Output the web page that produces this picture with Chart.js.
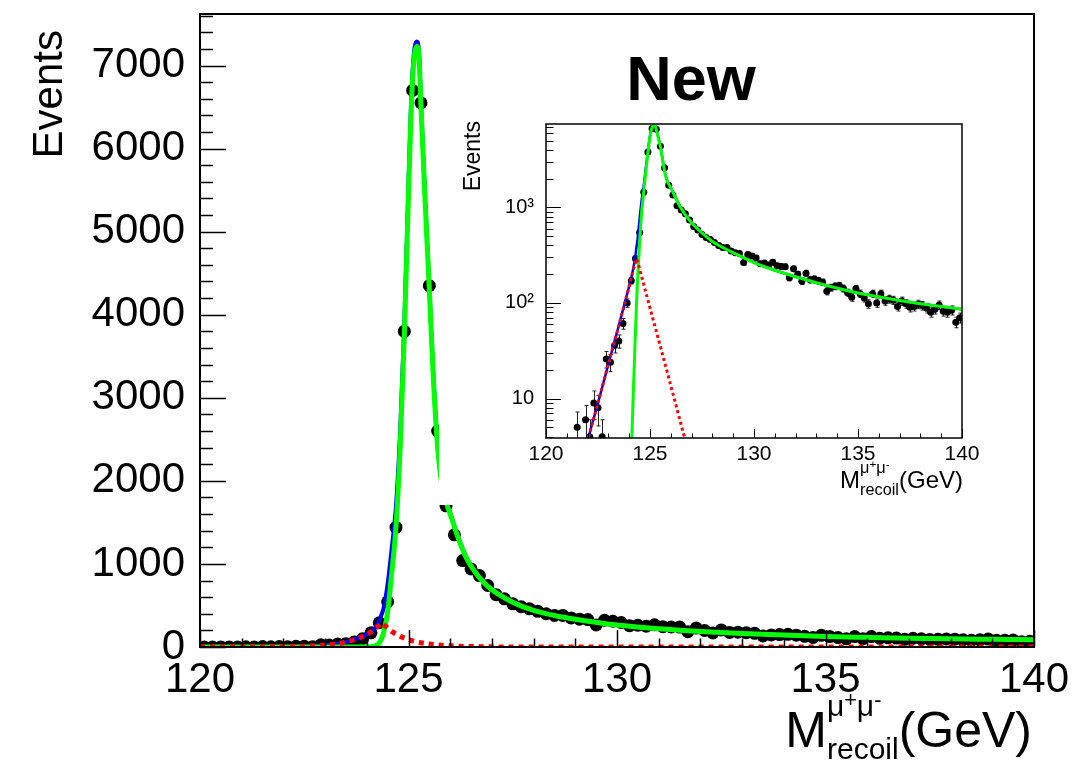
<!DOCTYPE html>
<html><head><meta charset="utf-8">
<script src="https://cdn.jsdelivr.net/npm/chart.js@4.4.1/dist/chart.umd.min.js"></script>
<style>
html,body{margin:0;padding:0;background:#fff;}
#wrap{position:relative;width:1084px;height:761px;overflow:hidden;background:#fff;}
#main{position:absolute;left:0;top:0;}
#inset{position:absolute;left:439px;top:108px;}
</style></head><body>
<div id="wrap">
<canvas id="main" width="1084" height="761"></canvas>
<canvas id="inset" width="561" height="397"></canvas>
</div>
<script>
// ---------------- data ----------------
const binCenters = [
 120.1,120.3,120.5,120.7,120.9,121.1,121.3,121.5,121.7,121.9,
 122.1,122.3,122.5,122.7,122.9,123.1,123.3,123.5,123.7,123.9,
 124.1,124.3,124.5,124.7,124.9,125.1,125.3,125.5,125.7,125.9,
 126.1,126.3,126.5,126.7,126.9,127.1,127.3,127.5,127.7,127.9,
 128.1,128.3,128.5,128.7,128.9,129.1,129.3,129.5,129.7,129.9,
 130.1,130.3,130.5,130.7,130.9,131.1,131.3,131.5,131.7,131.9,
 132.1,132.3,132.5,132.7,132.9,133.1,133.3,133.5,133.7,133.9,
 134.1,134.3,134.5,134.7,134.9,135.1,135.3,135.5,135.7,135.9,
 136.1,136.3,136.5,136.7,136.9,137.1,137.3,137.5,137.7,137.9,
 138.1,138.3,138.5,138.7,138.9,139.1,139.3,139.5,139.7,139.9];
const events = [
 0,0,1,0,1,2,1,5,2,6,
 4,9,8,4,26,24,36,40,61,100,
 171,292,545,1440,3800,6700,6550,4350,2600,1700,
 1350,1040,940,860,740,630,580,520,485,460,
 430,400,380,380,350,335,330,265,322,310,
 295,257,262,250,267,245,241,240,184,228,
 200,169,205,175,178,172,165,133,145,150,
 152,142,128,115,141,125,113,98,125,100,
 125,105,110,107,92,105,98,90,92,97,
 94,88,80,86,95,82,80,84,63,70];

const curveX = [120,121,122,122.5,123,123.5,124,
 124.1,124.2,124.3,124.35,124.4,124.5,124.6,124.7,124.8,124.9,
 125.0,125.05,125.1,125.15,125.2,125.25,125.3,
 125.4,125.5,125.6,125.7,125.8,125.9,126.0,
 126.2,126.4,126.6,126.8,127.0,
 127.5,128,128.5,129,
 130,131,132,133,134,135,136,137,138,139,140];
const totalFit = [0.06,0.4,3.6,9,23,58,150,
 183,232,313,385,460,760,1200,1700,2600,3900,
 5600,6380,6950,7230,7290,7180,6550,
 5390,4335,3230,2425,1970,1767,1614,
 1309,1066,904,783,692,
 541,440,380,335,
 265,220,188,163,143,127,116,106,98,92,86];
const signalFit = [0.01,0.01,0.01,0.01,0.01,0.02,0.5,
 2.5,12,50,95,170,420,900,1450,2400,3750,
 5450,6250,6850,7150,7230,7120,6500,
 5350,4300,3200,2400,1950,1750,1600,
 1300,1060,900,780,690,
 540,440,380,335,
 265,220,188,163,143,127,116,106,98,92,86];
const tailFit = [0.05,0.4,3.6,9,23,58,150,
 183,225,263,290,272,228,188,156,129,107,
 89,81,74,67,61,56,51,
 42,35,29,24,20,16.5,13.6,
 9.4,6.4,4.4,3.0,2.0,
 0.8,0.3,0.12,0.05,
 0.01,0.01,0.01,0.01,0.01,0.01,0.01,0.01,0.01,0.01,0.01];

const xTickValues = [120,125,130,135,140];
const xTickLabels = ['120','125','130','135','140'];
const mainYTickValues = [0,1000,2000,3000,4000,5000,6000,7000];
const mainYTickLabels = ['0','1000','2000','3000','4000','5000','6000','7000'];
const insetYTickValues = [10,100,1000];
const insetYTickLabels = ['10','10\u00B2','10\u00B3'];

const FONT = "'Liberation Sans', Arial, Helvetica, sans-serif";

// ---------------- helpers ----------------
function pts(xs, ys){ return xs.map((x,i)=>({x:x, y:ys[i]})); }

function drawMTitle(ctx, right, base, size, supUp, subDown, s2f){
  const big = size + 'px ' + FONT;
  const s2 = size*s2f, s3 = size*s2f*0.72;
  ctx.font = big;
  const wM = ctx.measureText('M').width, wG = ctx.measureText('(GeV)').width;
  ctx.font = s2 + 'px ' + FONT;
  const wMu = ctx.measureText('\u03BC').width, wRec = ctx.measureText('recoil').width;
  ctx.font = s3 + 'px ' + FONT;
  const wP = ctx.measureText('+').width, wMi = ctx.measureText('-').width;
  const wSup = 2*wMu + wP + wMi;
  const mid = Math.max(wSup, wRec);
  const x = right - wG - mid - wM;
  ctx.textAlign = 'left'; ctx.textBaseline = 'alphabetic'; ctx.fillStyle = '#000';
  ctx.font = big; ctx.fillText('M', x, base);
  let xs = x + wM;
  const supBase = base - size*supUp;
  ctx.font = s2 + 'px ' + FONT; ctx.fillText('\u03BC', xs, supBase); xs += wMu;
  ctx.font = s3 + 'px ' + FONT; ctx.fillText('+', xs, supBase - s2*0.3); xs += wP;
  ctx.font = s2 + 'px ' + FONT; ctx.fillText('\u03BC', xs, supBase); xs += wMu;
  ctx.font = s3 + 'px ' + FONT; ctx.fillText('-', xs, supBase - s2*0.3);
  ctx.font = s2 + 'px ' + FONT; ctx.fillText('recoil', x + wM, base + size*subDown);
  ctx.font = big; ctx.fillText('(GeV)', x + wM + mid, base);
}

function drawRotated(ctx, text, x, yEnd, size){
  ctx.save();
  ctx.translate(x, yEnd);
  ctx.rotate(-Math.PI/2);
  ctx.font = size + 'px ' + FONT;
  ctx.textAlign = 'right'; ctx.textBaseline = 'alphabetic'; ctx.fillStyle = '#000';
  ctx.fillText(text, 0, 0);
  ctx.restore();
}

function framePlugin(cfg){
  return {
    id: 'frameTicks',
    beforeDraw(chart){
      const ctx = chart.ctx;
      ctx.save(); ctx.fillStyle = '#fff'; ctx.fillRect(0,0,chart.width,chart.height); ctx.restore();
    },
    beforeDatasetsDraw(chart){
      if (!cfg.errorBars) return;
      const {ctx, chartArea:a, scales:{x, y}} = chart;
      ctx.save();
      ctx.beginPath(); ctx.rect(a.left, a.top, a.width, a.height); ctx.clip();
      ctx.strokeStyle = '#222'; ctx.lineWidth = 1;
      ctx.beginPath();
      events.forEach((v, i) => {
        if (v <= 0) return;
        const e = Math.sqrt(v);
        const px = Math.round(x.getPixelForValue(binCenters[i])) + 0.5;
        const yt = y.getPixelForValue(v + e);
        const yb = (v - e) > y.min ? y.getPixelForValue(v - e) : a.bottom + 2;
        ctx.moveTo(px, yt); ctx.lineTo(px, yb);
        ctx.moveTo(px - 2, yt); ctx.lineTo(px + 2, yt);
        ctx.moveTo(px - 2, yb); ctx.lineTo(px + 2, yb);
      });
      ctx.stroke();
      ctx.restore();
    },
    afterDatasetsDraw(chart){
      const {ctx, chartArea:a, scales:{x, y}} = chart;
      ctx.save();
      ctx.strokeStyle = '#000'; ctx.lineWidth = cfg.tickWidth;
      ctx.beginPath();
      for (let v = 120; v <= 140.0001; v += 1) {
        const px = Math.round(x.getPixelForValue(v)) + 0.5;
        const major = (Math.round(v) % 5) === 0;
        ctx.moveTo(px, a.bottom); ctx.lineTo(px, a.bottom - (major ? cfg.xMajor : cfg.xMinor));
      }
      if (cfg.log) {
        for (let d = 1; d <= 1000; d *= 10) {
          for (let m = 1; m <= 9; m++) {
            const v = m*d;
            if (v < y.min || v > y.max) continue;
            const py = Math.round(y.getPixelForValue(v)) + 0.5;
            ctx.moveTo(a.left, py); ctx.lineTo(a.left + (m === 1 ? cfg.yMajor : cfg.yMinor), py);
          }
        }
      } else {
        for (let v = 0; v <= y.max; v += 200) {
          const py = Math.round(y.getPixelForValue(v)) + 0.5;
          ctx.moveTo(a.left, py); ctx.lineTo(a.left + ((v % 1000) === 0 ? cfg.yMajor : cfg.yMinor), py);
        }
      }
      ctx.stroke();
      ctx.lineWidth = cfg.frameWidth;
      ctx.strokeRect(a.left, a.top, a.right - a.left, a.bottom - a.top);
      ctx.restore();
      cfg.texts(ctx, a);
    }
  };
}

function datasets(r, wBlue, wGreen, wRed, dash){
  return [
    {label:'tail', data: pts(curveX, tailFit), showLine:true, pointRadius:0, borderColor:'#ff0000',
     borderWidth:wRed, borderDash:dash, cubicInterpolationMode:'monotone', order:0},
    {label:'signal', data: pts(curveX, signalFit), showLine:true, pointRadius:0, borderColor:'#00ff00',
     borderWidth:wGreen, cubicInterpolationMode:'monotone', order:1},
    {label:'total', data: pts(curveX, totalFit), showLine:true, pointRadius:0, borderColor:'#0000ff',
     borderWidth:wBlue, cubicInterpolationMode:'monotone', order:2},
    {label:'data', data: pts(binCenters, events), showLine:false, pointRadius:r, pointHoverRadius:r,
     pointBackgroundColor:'#000', pointBorderColor:'#000', pointBorderWidth:0, order:3}
  ];
}

const noGrid = {display:false, drawTicks:false, tickLength:0};

// ---------------- main chart ----------------
new Chart(document.getElementById('main'), {
  type: 'scatter',
  data: { datasets: datasets(6.5, 4, 5, 5, [5,5]) },
  options: {
    responsive:false, animation:false, devicePixelRatio:1,
    layout:{ padding:{left:0, top:14, right:50, bottom:0} },
    plugins:{ legend:{display:false}, tooltip:{enabled:false} },
    scales:{
      x:{ type:'linear', min:120, max:140,
        afterBuildTicks: s => { s.ticks = xTickValues.map(v => ({value:v})); },
        ticks:{ callback:(v,i) => xTickLabels[i], font:{family:FONT, size:42}, color:'#000', padding:8, maxRotation:0, autoSkip:false },
        grid:noGrid, border:{display:false},
        afterFit: s => { s.height = 761 - 647; s.paddingLeft = 0; s.paddingRight = 0; } },
      y:{ type:'linear', min:0, max:7620,
        afterBuildTicks: s => { s.ticks = mainYTickValues.map(v => ({value:v})); },
        ticks:{ callback:(v,i) => mainYTickLabels[i], font:{family:FONT, size:42}, color:'#000', padding:15, autoSkip:false },
        grid:noGrid, border:{display:false},
        afterFit: s => { s.width = 200; s.paddingTop = 0; s.paddingBottom = 0; } }
    }
  },
  plugins:[ framePlugin({ log:false, tickWidth:1.5, frameWidth:2, xMajor:17, xMinor:8.5, yMajor:26, yMinor:13, errorBars:false,
    texts:(ctx, a) => {
      drawRotated(ctx, 'Events', 62, 30, 42);
      drawMTitle(ctx, 1032, 747, 50, 0.62, 0.24, 0.6);
      ctx.save();
      ctx.font = 'bold 63px ' + FONT; ctx.textAlign = 'center'; ctx.textBaseline = 'alphabetic'; ctx.fillStyle = '#000';
      ctx.fillText('New', 691, 100);
      ctx.restore();
    } }) ]
});

// ---------------- inset chart ----------------
new Chart(document.getElementById('inset'), {
  type: 'scatter',
  data: { datasets: datasets(3.5, 2.5, 3, 3, [3,3]) },
  options: {
    responsive:false, animation:false, devicePixelRatio:1,
    layout:{ padding:{left:0, top:16, right:38, bottom:0} },
    plugins:{ legend:{display:false}, tooltip:{enabled:false} },
    scales:{
      x:{ type:'linear', min:120, max:140,
        afterBuildTicks: s => { s.ticks = xTickValues.map(v => ({value:v})); },
        ticks:{ callback:(v,i) => xTickLabels[i], font:{family:FONT, size:21}, color:'#000', padding:4, maxRotation:0, autoSkip:false },
        grid:noGrid, border:{display:false},
        afterFit: s => { s.height = 67; s.paddingLeft = 0; s.paddingRight = 0; } },
      y:{ type:'logarithmic', min:3.87, max:7450,
        afterBuildTicks: s => { s.ticks = insetYTickValues.map(v => ({value:v})); },
        ticks:{ callback:(v,i) => insetYTickLabels[i], font:{family:FONT, size:20}, color:'#000', padding:12, autoSkip:false },
        grid:noGrid, border:{display:false},
        afterFit: s => { s.width = 107; s.paddingTop = 0; s.paddingBottom = 0; } }
    }
  },
  plugins:[ framePlugin({ log:true, tickWidth:1, frameWidth:1.5, xMajor:9, xMinor:4.5, yMajor:15, yMinor:7.5, errorBars:true,
    texts:(ctx, a) => {
      drawRotated(ctx, 'Events', 41, 13, 23);
      drawMTitle(ctx, 524, 380, 24, 0.62, 0.29, 0.68);
    } }) ]
});
</script>
</body></html>
